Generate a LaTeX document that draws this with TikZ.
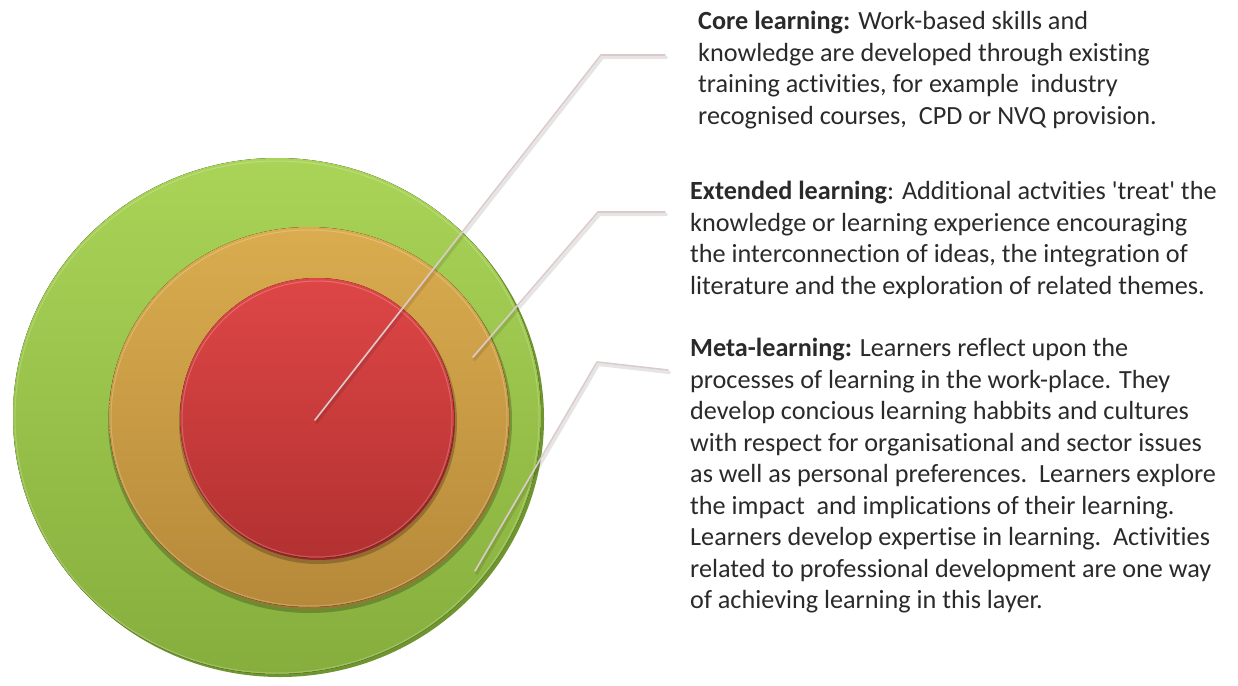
\documentclass[tikz,border=0pt]{standalone}
\usepackage{fontspec}
\setmainfont{Carlito}[Ligatures=NoCommon]
\usetikzlibrary{calc}

% disc colours
\definecolor{greenTop}{HTML}{A9D457}
\definecolor{greenBot}{HTML}{86AE3D}
\definecolor{greenRim}{HTML}{6F9530}
\definecolor{orangeTop}{HTML}{DAAC4F}
\definecolor{orangeBot}{HTML}{B6893A}
\definecolor{orangeRim}{HTML}{9C7330}
\definecolor{redTop}{HTML}{DE4646}
\definecolor{redBot}{HTML}{B33131}
\definecolor{redRim}{HTML}{962828}
% callout colours
\definecolor{leadercol}{HTML}{DCCACA}
\definecolor{bodytext}{HTML}{2A2A2A}

\begin{document}
\begin{tikzpicture}[x=1pt,y=-1pt,
  desc/.style={anchor=north west, inner sep=0pt, align=left, text=bodytext,
    font=\fontsize{26.2}{31.5}\selectfont},
  leader/.style={draw=leadercol, line width=1.6pt, line join=round, line cap=round},
  leadershade/.style={draw=black, opacity=0.10, line width=3.2pt, line join=round, line cap=round},
  rim/.style={fill=#1},
  dropshade/.style={fill=black, opacity=0.22},
  gloss/.style={draw=white, opacity=0.22, line width=1pt},
]
\useasboundingbox[fill=white] (0,0) rectangle (1238,685);

% ---- outer disc: meta-learning ----
\fill[rim=greenRim] (280,419) ellipse [x radius=264, y radius=258];
\fill[top color=greenTop, bottom color=greenBot] (277,416) ellipse [x radius=264, y radius=258];
\draw[gloss] (277,417) ellipse [x radius=262, y radius=256];

% ---- middle disc: extended learning ----
\fill[dropshade] (310,421) ellipse [x radius=202, y radius=192];
\fill[rim=orangeRim] (310,419) ellipse [x radius=200, y radius=190];
\fill[top color=orangeTop, bottom color=orangeBot] (309,417) ellipse [x radius=200, y radius=190];
\draw[gloss] (309,418) ellipse [x radius=198, y radius=188];

% ---- inner disc: core learning ----
\fill[dropshade] (318,422) ellipse [x radius=139, y radius=142];
\fill[rim=redRim] (318,420) ellipse [x radius=137, y radius=140];
\fill[top color=redTop, bottom color=redBot] (317,418) ellipse [x radius=137, y radius=140];
\draw[gloss] (317,419) ellipse [x radius=135, y radius=138];

% ---- descriptions ----
\node[desc] (core) at (698,11) {\textbf{Core learning:} Work-based skills and\\
knowledge are developed through existing\\
training activities, for example\ \ industry\\
recognised courses,\ \ CPD or NVQ provision.};

\node[desc] (extended) at (690,181) {\textbf{Extended learning}: Additional actvities \textquotesingle treat\textquotesingle{} the\\
knowledge or learning experience encouraging\\
the interconnection of ideas, the integration of\\
literature and the exploration of related themes.};

\node[desc] (meta) at (690,338) {\textbf{Meta-learning:} Learners reflect upon the\\
processes of learning in the work-place. They\\
develop concious learning habbits and cultures\\
with respect for organisational and sector issues\\
as well as personal preferences.\ \ Learners explore\\
the impact\ \ and implications of their learning.\\
Learners develop expertise in learning.\ \ Activities\\
related to professional development are one way\\
of achieving learning in this layer.};

% ---- callout anchors ----
\coordinate (coreTip) at (315,420);
\coordinate (coreBend) at (601,55);
\coordinate (coreEnd) at (665,55);
\coordinate (extTip) at (473,357);
\coordinate (extBend) at (598,212);
\coordinate (extEnd) at (665,212);
\coordinate (metaTip) at (475,571);
\coordinate (metaBend) at (597,362);
\coordinate (metaEnd) at (668,370);

% ---- leader lines ----
\foreach \p in {core,ext,meta}{
  \draw[leadershade] ($(\p Tip)+(1.5,2.5)$) -- ($(\p Bend)+(1.5,2.5)$) -- ($(\p End)+(1.5,2.5)$);
  \draw[leader] (\p Tip) -- (\p Bend) -- (\p End);
}
\end{tikzpicture}
\end{document}
